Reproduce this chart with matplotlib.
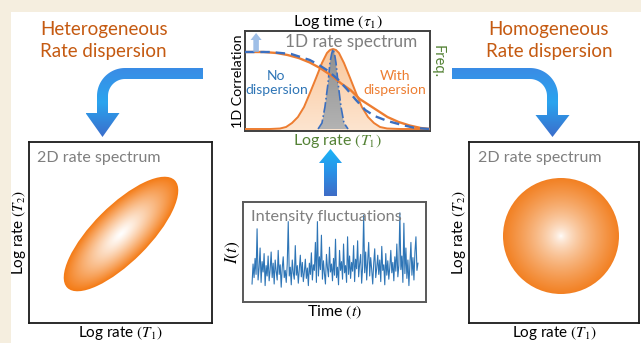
import numpy as np
import matplotlib
matplotlib.use("Agg")
import matplotlib.pyplot as plt
from matplotlib.colors import LinearSegmentedColormap, to_rgb
from matplotlib.patches import Rectangle, Polygon, Ellipse, Circle

plt.rcParams['font.family'] = ['Lato', 'DejaVu Sans']
plt.rcParams['mathtext.fontset'] = 'stix'

W, H = 641, 343  # figure size in pixels

# 1D correlation curves, x = log time (0..100), y = correlation
corr_x_disp = [0, 10, 17, 23, 29, 35, 41, 47, 52, 57, 62, 67, 72, 77, 83, 89, 95, 100]
corr_y_disp = [0.79, 0.79, 0.78, 0.76, 0.73, 0.685, 0.625, 0.55, 0.475, 0.41,
               0.32, 0.26, 0.20, 0.14, 0.09, 0.055, 0.03, 0.02]
corr_x_nodisp = [0, 13.5, 25, 30, 35, 40, 45, 50, 55, 60, 65, 70, 77, 85, 92, 100]
corr_y_nodisp = [0.79, 0.79, 0.77, 0.74, 0.71, 0.66, 0.60, 0.52, 0.42, 0.31,
                 0.21, 0.15, 0.10, 0.06, 0.03, 0.02]

# 1D rate spectra, x = log rate
spec_x_disp = [0, 13.5, 18.9, 22.2, 25.4, 28.6, 31.9, 35.1, 38.4, 41.6, 44.3, 45.9, 47.6,
               49.2, 50.8, 53.5, 56.8, 60.0, 63.2, 66.5, 69.7, 73.0, 76.8, 83.8, 100]
spec_y_disp = [0.02, 0.02, 0.025, 0.04, 0.08, 0.14, 0.24, 0.38, 0.53, 0.68, 0.78, 0.81, 0.82,
               0.81, 0.78, 0.68, 0.53, 0.38, 0.24, 0.14, 0.08, 0.04, 0.025, 0.02, 0.02]
spec_x_nodisp = [39.5, 41.6, 43.2, 44.9, 45.9, 46.8, 47.6, 48.4, 49.2, 50.3, 51.9, 53.5, 55.7]
spec_y_nodisp = [0.02, 0.08, 0.24, 0.48, 0.68, 0.77, 0.82, 0.77, 0.68, 0.48, 0.24, 0.08, 0.02]

# intensity trace I(t)
intensity = [
    0.10, 0.35, 0.18, 0.42, 0.22, 0.79, 0.15, 0.30, 0.55, 0.12, 0.38, 0.25, 0.48, 0.08, 0.33, 0.20, 0.45, 0.14, 0.28, 0.50,
    0.18, 0.36, 0.10, 0.40, 0.26, 0.15, 0.52, 0.22, 0.34, 0.06, 0.30, 0.44, 0.18, 0.27, 0.12, 0.35, 0.88, 0.20, 0.31, 0.09,
    0.40, 0.24, 0.16, 0.58, 0.21, 0.33, 0.11, 0.29, 0.46, 0.19, 0.37, 0.13, 0.25, 0.41, 0.17, 0.30, 0.08, 0.36, 0.22, 0.49,
    0.15, 0.34, 0.27, 0.62, 0.12, 0.88, 0.20, 0.44, 0.28, 0.71, 0.16, 0.39, 0.23, 0.10, 0.47, 0.30, 0.19, 0.56, 0.25, 0.35,
    0.14, 0.42, 0.21, 0.66, 0.18, 0.31, 0.09, 0.52, 0.27, 0.38, 0.16, 0.60, 0.24, 0.33, 0.12, 0.69, 0.22, 0.45, 0.17, 0.37,
    0.26, 0.58, 0.13, 0.41, 0.29, 0.64, 0.19, 0.35, 0.47, 0.11, 0.32, 0.96, 0.24, 0.50, 0.15, 0.38, 0.62, 0.20, 0.43, 0.28,
    0.10, 0.36, 0.54, 0.18, 0.30, 0.46, 0.22, 0.40, 0.13, 0.57, 0.27, 0.34, 0.09, 0.48, 0.21, 0.39, 0.16, 0.31, 0.52, 0.24,
    0.37, 0.14, 0.44, 0.26, 0.60, 0.19, 0.33, 0.99, 0.28, 0.45, 0.12, 0.86, 0.23, 0.55, 0.17, 0.40, 0.08, 0.34, 0.62, 0.21,
    0.43, 0.15, 0.50, 0.69, 0.27, 0.36,
]

ORANGE = '#ed7d31'
BLUE = '#3b6fc0'
GREEN = '#548235'
GRAY = '#7f7f7f'
TITLE = '#c55a11'


def px_axes(x0, y0, x1, y1):
    return fig.add_axes([x0 / W, 1 - y1 / H, (x1 - x0) / W, (y1 - y0) / H])


def gradient_fill(ax, verts, colors, top_is_min, zorder=2):
    patch = Polygon(verts, closed=True, facecolor='none', edgecolor='none')
    ax.add_patch(patch)
    xs = [v[0] for v in verts]
    ys = [v[1] for v in verts]
    top = min(ys) if top_is_min else max(ys)
    bot = max(ys) if top_is_min else min(ys)
    cmap = LinearSegmentedColormap.from_list('g', colors)
    im = ax.imshow(np.linspace(0, 1, 200)[:, None], cmap=cmap, aspect='auto',
                   extent=(min(xs), max(xs), bot, top), origin='upper', zorder=zorder)
    im.set_clip_path(patch)


def bent_arrow(x_end, cx, y_top, R, t, shaft_bottom, tip_y, head_half, s):
    cy = y_top + R
    th_end = -90 + s * 90
    th = np.radians(np.linspace(-90, th_end, 30))
    x_out = cx + s * R
    x_in = cx + s * (R - t)
    x_mid = cx + s * (R - t / 2)
    pts = [(x_end, y_top)]
    pts += list(zip(cx + R * np.cos(th), cy + R * np.sin(th)))
    pts += [(x_out, shaft_bottom), (x_mid + s * head_half, shaft_bottom), (x_mid, tip_y),
            (x_mid - s * head_half, shaft_bottom), (x_in, shaft_bottom)]
    r2 = R - t
    pts += list(zip(cx + r2 * np.cos(th[::-1]), cy + r2 * np.sin(th[::-1])))
    pts += [(x_end, y_top + t)]
    return pts


def radial_blob(ax, w, h, cx, cy, a, b, ang, power, edge):
    X, Y = np.meshgrid(np.linspace(0, w, 400), np.linspace(0, h, 400))
    c, sn = np.cos(np.radians(ang)), np.sin(np.radians(ang))
    u = ((X - cx) * c + (Y - cy) * sn) / a
    v = (-(X - cx) * sn + (Y - cy) * c) / b
    r = np.clip(np.sqrt(u ** 2 + v ** 2), 0, 1) ** power
    rgb = np.ones((400, 400, 3)) * (1 - r[..., None]) + np.array(to_rgb(edge)) * r[..., None]
    im = ax.imshow(rgb, extent=(0, w, 0, h), origin='lower', aspect='auto', zorder=1)
    if a == b:
        clip = Circle((cx, cy), a, facecolor='none', edgecolor='none')
    else:
        clip = Ellipse((cx, cy), 2 * a, 2 * b, angle=ang, facecolor='none', edgecolor='none')
    ax.add_patch(clip)
    im.set_clip_path(clip)
    ax.set_xlim(0, w)
    ax.set_ylim(0, h)


def box_style(ax, color, lw):
    ax.set_xticks([])
    ax.set_yticks([])
    for sp in ax.spines.values():
        sp.set_color(color)
        sp.set_linewidth(lw)


fig = plt.figure(figsize=(W / 100, H / 100), dpi=100)
fig.patch.set_facecolor('#f5eedf')

bg = fig.add_axes([0, 0, 1, 1])
bg.add_patch(Rectangle((11, 12), W - 11, H - 12, facecolor='white', edgecolor='none', zorder=0))
arrow_cols = ['#3a8ce5', '#2aa4ef', '#3b6dcb']
gradient_fill(bg, bent_arrow(203, 125, 68, 28, 11, 113, 137, 17, -1), arrow_cols, True)
gradient_fill(bg, bent_arrow(452, 530, 68, 28, 11, 115, 137, 17, 1), arrow_cols, True)
gradient_fill(bg, [(324, 196), (324, 163), (319, 163), (330.5, 149), (342, 163), (337, 163), (337, 196)],
              ['#1ab4f7', '#2a90e6', '#3f6cc6'], True)
bg.set_xlim(0, W)
bg.set_ylim(H, 0)
bg.axis('off')

bg.text(40, 21, "Heterogeneous\nRate dispersion", color=TITLE, fontsize=13.5, ha='left', va='top',
        linespacing=1.35)
bg.text(549, 21, "Homogeneous\nRate dispersion", color=TITLE, fontsize=13.5, ha='center', va='top',
        linespacing=1.35, multialignment='center')

# top: 1D correlation / 1D rate spectrum
ax1 = px_axes(245, 31, 430, 131)
box_style(ax1, '#404040', 1.4)
gradient_fill(ax1, list(zip(spec_x_disp, spec_y_disp)) + [(100, 0), (0, 0)],
              ['#f9c79c', '#fde5d0'], False, zorder=1)
gradient_fill(ax1, list(zip(spec_x_nodisp, spec_y_nodisp)),
              ['#8f8f8f', '#b3b3b3'], False, zorder=2)
ax1.plot(spec_x_disp, spec_y_disp, color=ORANGE, lw=1.4, zorder=3)
ax1.plot(spec_x_nodisp, spec_y_nodisp, color=BLUE, lw=1.2, ls='-.', zorder=3)
ax1.plot(corr_x_disp, corr_y_disp, color=ORANGE, lw=1.7, zorder=4)
ax1.plot(corr_x_nodisp, corr_y_nodisp, color=BLUE, lw=1.7, ls=(0, (4, 2.5)), zorder=4)
ax1.set_xlim(0, 100)
ax1.set_ylim(0, 1)
ax1.fill([0.03, 0.06, 0.09, 0.075, 0.075, 0.045, 0.045], [0.91, 0.98, 0.91, 0.91, 0.79, 0.79, 0.91],
         transform=ax1.transAxes, color='#8eb4e3', alpha=0.85, zorder=5, lw=0)
ax1.text(0.216, 0.885, "1D rate spectrum", transform=ax1.transAxes, color=GRAY, fontsize=12.3,
         ha='left', va='center', zorder=6)
ax1.text(0.17, 0.475, "No\ndispersion", transform=ax1.transAxes, color='#2e75b6', fontsize=10,
         ha='center', va='center', multialignment='center', zorder=6)
ax1.text(0.81, 0.475, "With\ndispersion", transform=ax1.transAxes, color=ORANGE, fontsize=10,
         ha='center', va='center', multialignment='center', zorder=6)
ax1.text(1.04, 0.69, "Freq.", transform=ax1.transAxes, color=GREEN, fontsize=10.5,
         ha='center', va='center', rotation=-90)
ax1.set_title(r"Log time $(\tau_1)$", fontsize=11.5, pad=2)
ax1.set_xlabel(r"Log rate $(T_1)$", fontsize=11.5, color=GREEN, labelpad=1)
ax1.set_ylabel("1D Correlation", fontsize=10.3, labelpad=1)

# middle: intensity fluctuations
ax2 = px_axes(243, 202, 426, 302)
box_style(ax2, '#595959', 1.4)
ax2.plot(range(len(intensity)), intensity, color='#2e75b6', lw=0.8)
ax2.set_xlim(-9, 173)
ax2.set_ylim(-0.125, 1.125)
ax2.text(0.045, 0.85, "Intensity fluctuations", transform=ax2.transAxes, color=GRAY, fontsize=11.7,
         ha='left', va='center')
ax2.set_xlabel(r"Time $(t)$", fontsize=11.5, labelpad=1)
ax2.set_ylabel(r"$I(t)$", fontsize=12.5, labelpad=1)

# left: heterogeneous 2D spectrum
ax3 = px_axes(29, 142, 212, 323)
box_style(ax3, '#1a1a1a', 1.3)
radial_blob(ax3, 183, 181, 92, 89, 76, 28, 45, 1.2, '#f47a14')
ax3.text(0.045, 0.91, "2D rate spectrum", transform=ax3.transAxes, color=GRAY, fontsize=11.5,
         ha='left', va='center')
ax3.set_xlabel(r"Log rate $(T_1)$", fontsize=11, labelpad=1)
ax3.set_ylabel(r"Log rate $(T_2)$", fontsize=11, labelpad=1)

# right: homogeneous 2D spectrum
ax4 = px_axes(469, 142, 639, 323)
box_style(ax4, '#1a1a1a', 1.3)
radial_blob(ax4, 170, 181, 92, 87, 58, 58, 0, 0.7, '#f28022')
ax4.text(0.05, 0.91, "2D rate spectrum", transform=ax4.transAxes, color=GRAY, fontsize=11.5,
         ha='left', va='center')
ax4.set_xlabel(r"Log rate $(T_1)$", fontsize=11, labelpad=1)
ax4.set_ylabel(r"Log rate $(T_2)$", fontsize=11, labelpad=1)

fig.savefig("out.png", dpi=100)
